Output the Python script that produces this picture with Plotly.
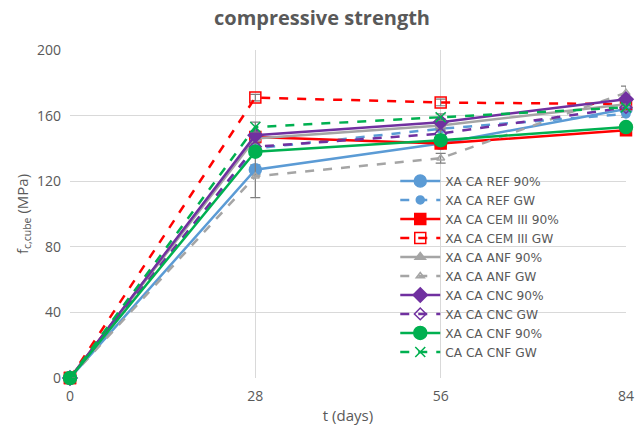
import plotly.graph_objects as go

t_days = [0, 28, 56, 84]

series_names = [
    "XA CA REF 90%", "XA CA REF GW",
    "XA CA CEM III 90%", "XA CA CEM III GW",
    "XA CA ANF 90%", "XA CA ANF GW",
    "XA CA CNC 90%", "XA CA CNC GW",
    "XA CA CNF 90%", "CA CA CNF GW",
]

ref_90 = [0, 127, 143, 164]
ref_gw = [0, 140, 152, 161]
cem_90 = [0, 147, 143, 151]
cem_gw = [0, 171, 168, 167]
anf_90 = [0, 146, 154, 167]
anf_gw = [0, 123, 134, 174]
cnc_90 = [0, 148, 156, 170]
cnc_gw = [0, 141, 149, 165]
cnf_90 = [0, 138, 145, 153]
cnf_gw = [0, 153, 159, 165]

ref_90_err = [0, 3, 3, 3]
ref_gw_err = [0, 2, 2, 2]
cem_90_err = [0, 2, 2, 2]
cem_gw_err = [0, 2, 2, 2]
anf_90_err = [0, 2, 2, 2]
anf_gw_err = [0, 13, 3, 4]
cnc_90_err = [0, 2, 2, 2]
cnc_gw_err = [0, 2, 2, 2]
cnf_90_err = [0, 2, 2, 2]
cnf_gw_err = [0, 3, 2, 2]

values = [ref_90, ref_gw, cem_90, cem_gw, anf_90, anf_gw, cnc_90, cnc_gw, cnf_90, cnf_gw]
errors = [ref_90_err, ref_gw_err, cem_90_err, cem_gw_err, anf_90_err, anf_gw_err,
          cnc_90_err, cnc_gw_err, cnf_90_err, cnf_gw_err]

BLUE = "#5B9BD5"
RED = "#FF0000"
GRAY = "#A5A5A5"
PURPLE = "#7030A0"
GREEN = "#00B050"

styles = [
    dict(color=BLUE, dash="solid", symbol="circle", size=12),
    dict(color=BLUE, dash="dash", symbol="circle", size=8),
    dict(color=RED, dash="solid", symbol="square", size=11),
    dict(color=RED, dash="dash", symbol="square-open", size=11),
    dict(color=GRAY, dash="solid", symbol="triangle-up", size=9),
    dict(color=GRAY, dash="dash", symbol="triangle-up-open", size=7),
    dict(color=PURPLE, dash="solid", symbol="diamond", size=11),
    dict(color=PURPLE, dash="dash", symbol="diamond-open", size=9),
    dict(color=GREEN, dash="solid", symbol="circle", size=13),
    dict(color=GREEN, dash="dash", symbol="x-thin-open", size=10),
]

fig = go.Figure()
for name, vals, err, st in zip(series_names, values, errors, styles):
    fig.add_trace(go.Scatter(
        x=t_days, y=vals, name=name, mode="lines+markers",
        line=dict(color=st["color"], width=2.5, dash=st["dash"]),
        marker=dict(symbol=st["symbol"], size=st["size"], color=st["color"],
                    line=dict(color=st["color"], width=1.5)),
        error_y=dict(type="data", array=err, visible=True, color="#7F7F7F",
                     thickness=1.2, width=5),
        cliponaxis=False,
    ))

font_fam = "Open Sans, Liberation Sans, sans-serif"
fig.update_layout(
    width=644, height=438,
    margin=dict(l=70, r=10, t=50, b=60),
    paper_bgcolor="white", plot_bgcolor="white",
    title=dict(text="<b>compressive strength</b>", x=0.5, xanchor="center",
               y=0.96, yanchor="middle",
               font=dict(family=font_fam, size=20, color="#595959")),
    font=dict(family=font_fam, size=14, color="#595959"),
    xaxis=dict(range=[0, 84], tickvals=[0, 28, 56, 84], showgrid=True,
               gridcolor="#D9D9D9", gridwidth=1, zeroline=False, showline=False,
               ticks="", ticklabelstandoff=8, tickfont=dict(size=14),
               title=dict(text="t (days)", font=dict(size=15, color="#595959"), standoff=6)),
    yaxis=dict(range=[0, 200], tickvals=[0, 40, 80, 120, 160, 200], showgrid=True,
               gridcolor="#D9D9D9", gridwidth=1, zeroline=False, showline=False,
               ticks="", ticklabelstandoff=8, tickfont=dict(size=14),
               title=dict(text="f<sub>c,cube</sub> (MPa)", font=dict(size=15, color="#595959"), standoff=4)),
    legend=dict(x=0.585, y=0.645, xanchor="left", yanchor="top",
                bgcolor="rgba(0,0,0,0)",
                font=dict(family="DejaVu Sans, sans-serif", size=12.2, color="#595959"),
                itemwidth=40, tracegroupgap=0),
)

fig.write_html("out.html")
